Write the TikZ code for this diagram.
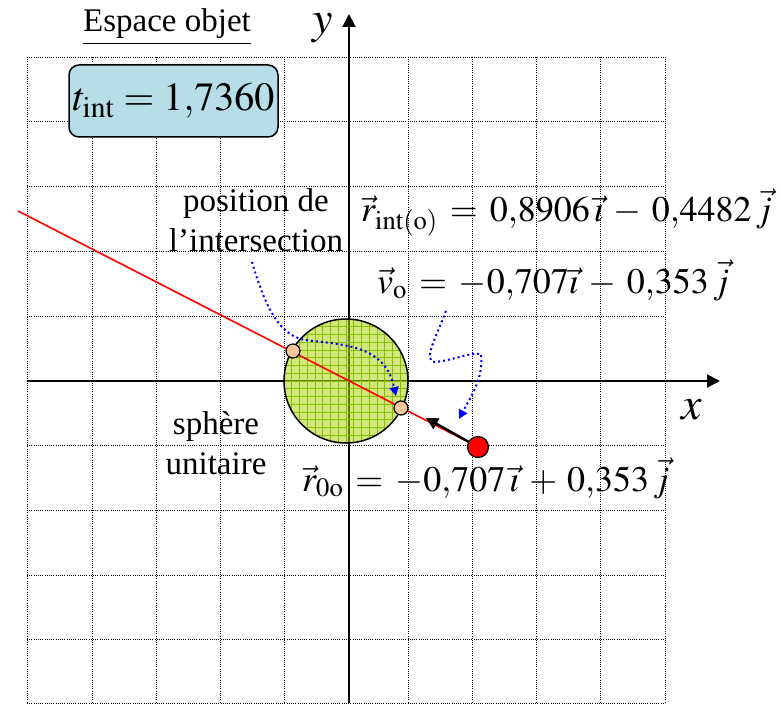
\documentclass[tikz,border=0pt]{standalone}
\usepackage{mathptmx}
\usepackage{fontspec}
\setmainfont{Liberation Serif}
\usetikzlibrary{arrows.meta}
\definecolor{ink}{HTML}{000000}
\definecolor{tbox}{HTML}{B7DDE8}
\definecolor{sphere}{RGB}{175,210,20}
\definecolor{sphereg}{RGB}{135,190,0}
\definecolor{peach}{HTML}{F9C79B}
\definecolor{ray}{HTML}{FF0000}
\definecolor{hint}{HTML}{0000FF}
\newcommand\eqsp{\thickmuskip=6mu\relax\medmuskip=5mu\relax}

\begin{document}
\begin{tikzpicture}[x=1pt, y=-1pt,
  grille/.style={draw=ink, line width=0.8pt, dash pattern=on 0.8pt off 1.4pt},
  axe/.style={draw=ink, line width=2pt, -{Triangle[length=13pt, width=13pt]}},
  finegrid/.style={draw=sphereg, line width=0.6pt},
  lab/.style={font=\fontsize{33}{40}\selectfont, align=center, inner sep=0pt},
  eqn/.style={font=\fontsize{36}{40}\selectfont, anchor=base west, inner sep=0pt},
  axlab/.style={font=\fontsize{46}{50}\selectfont, inner sep=0pt},
  peachdot/.style={circle, draw=ink, line width=1.2pt, fill=peach, minimum size=14pt, inner sep=0pt},
  reddot/.style={circle, draw=ink, line width=1.2pt, fill=ray, minimum size=21pt, inner sep=0pt},
  rayline/.style={draw=ray, line width=1.6pt},
  varr/.style={draw=ink, line width=2.4pt, -{Triangle[length=12pt, width=12pt]}},
  hintarr/.style={draw=hint, line width=2pt, dash pattern=on 2pt off 3pt, -{Triangle[length=9pt, width=9pt]}}
]
\useasboundingbox (0,0) rectangle (782,706);
% ---------------- grid
\foreach \gx in {27,92,156,220,284,408,472,536,600,665}
  \draw[grille] (\gx,57) -- (\gx,703);
\foreach \gy in {57,121,186,251,316,445,510,575,639,703}
  \draw[grille] (27,\gy) -- (665,\gy);
% ---------------- axes
\coordinate (xa) at (27,381);
\coordinate (xb) at (720,381);
\coordinate (ya) at (349,703);
\coordinate (yb) at (349,14);
\draw[axe] (xa) -- (xb);
\draw[axe] (ya) -- (yb);
\node[axlab] (xlab) at (692,410) {$x$};
\node[axlab] (ylab) at (323,28) {$y$};
% ---------------- unit sphere
\coordinate (C) at (346,381);
\fill[sphere, fill opacity=0.55] (C) circle[radius=62pt];
\begin{scope}
\clip (C) circle[radius=62pt];
\foreach \k in {1,...,15} {
  \draw[finegrid] ({284+7.75*\k},319) -- ({284+7.75*\k},443);
  \draw[finegrid] (284,{319+7.75*\k}) -- (408,{319+7.75*\k});
}
\end{scope}
\draw[ink, line width=1.5pt] (C) circle[radius=62pt];
% ---------------- ray
\coordinate (rayfar) at (18,211);
\coordinate (s0) at (478,447);
\coordinate (vtip) at (426,418);
\draw[rayline] (rayfar) -- (s0);
\node[reddot] (start) at (s0) {};
\draw[varr] (start) -- (vtip);
\node[peachdot] (p1) at (293,351) {};
\node[peachdot] (p2) at (401,408) {};
% ---------------- hints
\coordinate (h1a) at (252,262);
\coordinate (h1b) at (396,396);
\coordinate (h2a) at (446,311);
\coordinate (h2b) at (459,419);
\draw[hintarr] (h1a) .. controls (262,295) and (275,335) .. (305,340) .. controls (345,345) and (385,345) .. (h1b);
\draw[hintarr] (h2a) .. controls (437,335) and (422,362) .. (435,362) .. controls (455,360) and (470,352) .. (481,354) .. controls (484,378) and (470,398) .. (h2b);
% ---------------- labels
\node[lab] (title) at (167,27) {\underline{Espace objet}};
\node[draw=ink, line width=1.5pt, fill=tbox, rounded corners=10pt, minimum width=209pt, minimum height=72pt,
      font=\fontsize{40}{44}\selectfont] (tint) at (173.5,101) {$t_{\mathrm{int}} = 1{,}7360$};
\node[lab] (pos) at (256,220) {position de\\l’intersection};
\node[lab] (sph) at (216,443) {sphère\\unitaire};
\node[eqn] (rint) at (361,222) {\eqsp$\vec{r}_{\mathrm{int(o)}} = 0{,}8906\,\vec{\imath} - 0{,}4482\,\vec{j}$};
\node[eqn] (vo) at (377,293) {\eqsp$\vec{v}_{\mathrm{o}} = -0{,}707\vec{\imath} - 0{,}353\,\vec{j}$};
\node[eqn] (r0) at (302,491) {\eqsp$\vec{r}_{\mathrm{0o}} = -0{,}707\,\vec{\imath} + 0{,}353\,\vec{j}$};
\end{tikzpicture}
\end{document}
